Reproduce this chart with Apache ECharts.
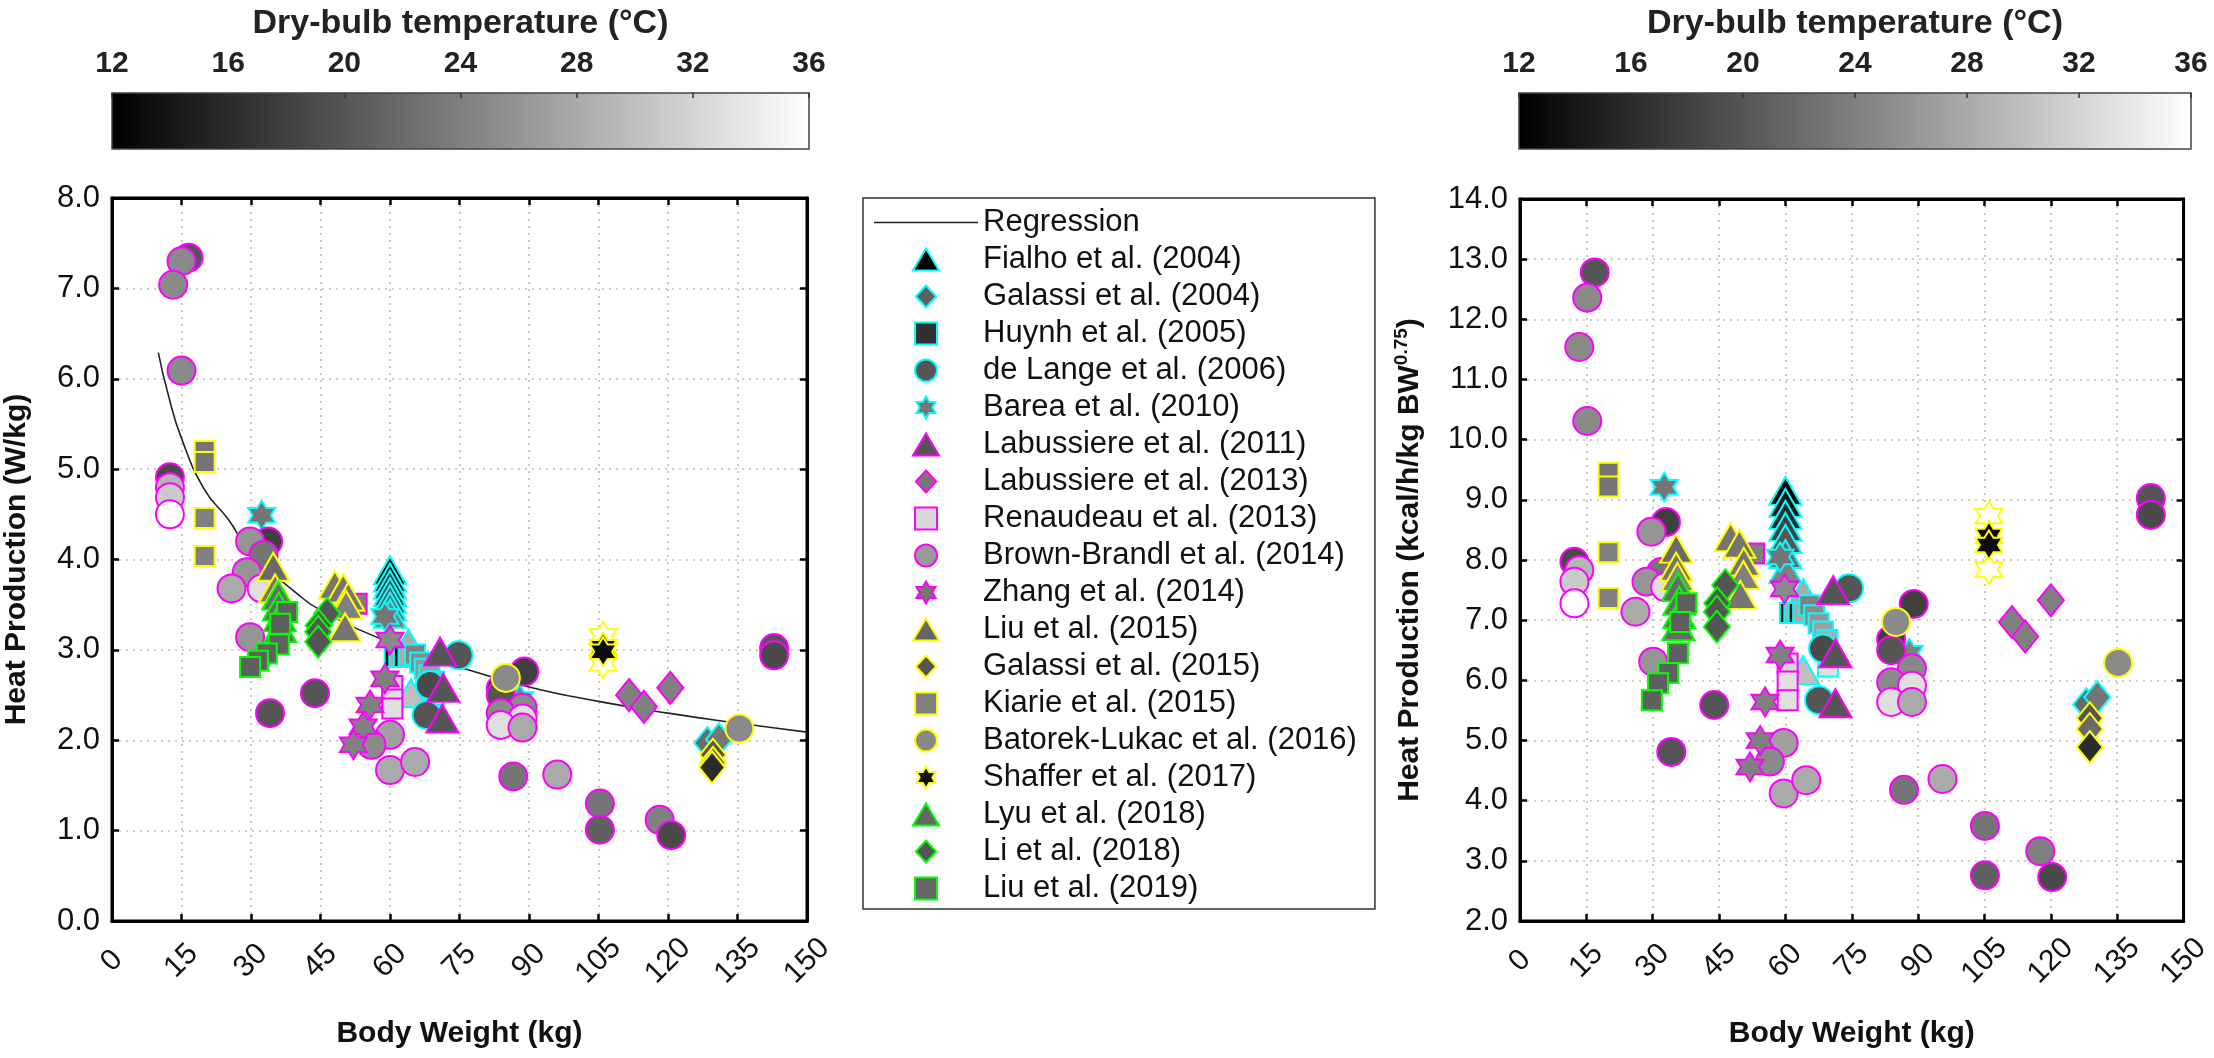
<!DOCTYPE html>
<html><head><meta charset="utf-8">
<script src="https://cdn.jsdelivr.net/npm/echarts@6/dist/echarts.min.js"></script>
<style>html,body{margin:0;padding:0;background:#fff}#c{width:2214px;height:1058px}</style>
</head><body><div id="c"></div>
<script>
// ---------- study metadata ----------
const studyNames = ['Fialho et al. (2004)','Galassi et al. (2004)','Huynh et al. (2005)','de Lange et al. (2006)','Barea et al. (2010)',
  'Labussiere et al. (2011)','Labussiere et al. (2013)','Renaudeau et al. (2013)','Brown-Brandl et al. (2014)','Zhang et al. (2014)',
  'Liu et al. (2015)','Galassi et al. (2015)','Kiarie et al. (2015)','Batorek-Lukac et al. (2016)','Shaffer et al. (2017)',
  'Lyu et al. (2018)','Li et al. (2018)','Liu et al. (2019)'];
const studyShapes = ['triangle','diamond','rect','circle','hexagram','triangle','diamond','rect','circle','hexagram',
  'triangle','diamond','rect','circle','hexagram','triangle','diamond','rect'];
const studyEdges = ['#00ffff','#00ffff','#00ffff','#00ffff','#00ffff','#ff00ff','#ff00ff','#ff00ff','#ff00ff','#ff00ff',
  '#ffff00','#ffff00','#ffff00','#ffff00','#ffff00','#00ff00','#00ff00','#00ff00'];
const studyLegendFill = ['#000000','#606060','#303030','#555555','#777777','#555555','#777777','#d8d8d8','#999999','#777777',
  '#666666','#555555','#808080','#888888','#111111','#666666','#555555','#666666'];

// ---------- data: [body weight kg, heat production, dry-bulb temperature °C] ----------
// Left panel: W/kg
const fialhoL = [[60,3.88,12],[60,3.80,14],[60,3.72,16],[60,3.64,18],[60,3.56,20],[60,3.48,22],[60,3.40,24],[64,3.07,28],[64.5,2.52,30]];
const galassi04L = [[128.5,1.97,22],[131,2.01,23]];
const huynhL = [[61,2.92,13],[62,2.92,28],[63,2.92,13],[64,2.92,28],[65.4,2.95,24],[66.5,2.86,25],[67.5,2.79,26],[68.5,2.72,27],[69.5,2.65,28],[69.6,2.50,33]];
const deLangeL = [[74.8,2.94,20],[68.6,2.61,19],[67.9,2.28,20]];
const bareaL = [[32.3,4.49,23],[58.9,3.37,23],[88,2.45,24]];
const lab11L = [[70.8,2.98,20],[71.5,2.58,20],[71.3,2.24,20]];
const lab13L = [[111.6,2.50,24],[114.8,2.37,24],[120.5,2.58,24]];
const renaudeauL = [[52.8,3.51,24],[60.5,2.60,32],[60.5,2.45,33],[60.5,2.35,33]];
const brownL = [[16.5,7.34,20],[15,7.30,25],[13.2,7.04,25],[15,6.09,25],
  [12.5,4.91,19],[12.5,4.80,29],[12.5,4.69,31],[12.5,4.50,36],
  [33.7,4.20,18],[29.8,4.20,26],[32.7,4.05,23],[29.1,3.86,26],[25.8,3.68,28],[32.3,3.68,33],[29.8,3.14,26],
  [43.8,2.52,20],[34.1,2.30,20],
  [60,2.06,27],[56,1.95,25],[60,1.67,28],[65.4,1.76,28],
  [89,2.76,18],[83.9,2.57,18],[83.9,2.50,20],[88.6,2.36,25],[83.9,2.30,25],[88.6,2.24,33],[83.9,2.17,33],[88.6,2.14,28],
  [86.6,1.60,23],[96.1,1.62,28],
  [105.3,1.30,23],[105.3,1.01,21],[118.2,1.12,24],[120.7,0.95,19],
  [142.9,3.02,20],[142.9,2.94,19]];
const zhangL = [[60,3.11,25],[58.9,2.68,24],[55.7,2.39,24],[54.2,2.15,24],[52.1,1.95,24]];
const liu15L = [[34.8,3.92,22],[35.2,3.68,23],[35.8,3.61,24],[48.1,3.72,23],[49.9,3.68,23],[51,3.59,23],[50.5,3.50,24],[50.3,3.25,23]];
const galassi15L = [[129.7,1.84,20],[129.7,1.75,22],[129.5,1.70,16]];
const kiarieL = [[20,5.20,23],[20,5.08,23],[20,4.46,24],[20,4.04,24]];
const batorekL = [[85,2.69,25],[135.4,2.13,25]];
const shafferL = [[106,3.15,36],[106,2.85,36],[106,3.03,13],[106,2.98,13]];
const lyuL = [[35.9,3.60,22],[36,3.48,22],[36.2,3.36,22],[36.3,3.24,22]];
const liL = [[46.4,3.40,20],[44.6,3.27,20],[44.5,3.20,20],[44.5,3.09,20]];
const liu19L = [[37.8,3.42,21],[36.3,3.29,21],[36,3.06,21],[33.4,2.96,21],[31.5,2.88,21],[29.8,2.81,21]];

// Right panel: kcal/h/kg BW^0.75
const fialhoR = [[60,9.15,12],[60,8.95,14],[60,8.75,16],[60,8.55,18],[60,8.35,20],[60,8.10,22],[60,7.85,24],[64,7.45,28],[64,6.17,30]];
const galassi04R = [[128,5.60,22],[130.5,5.72,23]];
const huynhR = [[61,7.12,13],[62,7.12,28],[63,7.12,13],[64,7.12,28],[65.4,7.25,24],[66.5,7.08,25],[67.5,6.95,26],[68.5,6.81,27],[69.5,6.67,28],[69.6,6.23,33]];
const deLangeR = [[74.4,7.53,20],[68.5,6.53,19],[67.6,5.67,20]];
const bareaR = [[32.6,9.21,23],[58.8,8.05,23],[88,6.45,24]];
const lab11R = [[70.8,7.50,20],[71.3,6.45,20],[71.3,5.62,20]];
const lab13R = [[111.2,6.97,24],[114.2,6.73,24],[120,7.33,24]];
const renaudeauR = [[52.9,8.11,24],[60.5,6.28,32],[60.5,5.98,33],[60.5,5.67,33]];
const brownR = [[16.9,12.78,20],[15.2,12.36,25],[13.4,11.54,25],[15.2,10.31,25],
  [12.3,7.97,19],[13.4,7.83,29],[12.3,7.64,31],[12.3,7.28,36],
  [33,8.63,18],[29.7,8.47,26],[31.9,7.80,23],[28.6,7.64,26],[26.1,7.14,28],[32.8,7.55,33],[30.1,6.31,26],
  [43.9,5.59,20],[34.2,4.81,20],
  [59.6,4.96,27],[56.5,4.65,25],[59.6,4.12,28],[64.7,4.34,28],
  [89,7.27,18],[83.9,6.68,18],[83.9,6.50,20],[88.6,6.20,25],[83.9,5.97,25],[88.6,5.91,33],[83.9,5.64,33],[88.6,5.64,28],
  [86.8,4.18,23],[95.5,4.36,28],
  [105.1,3.58,23],[105.1,2.76,21],[117.6,3.16,24],[120.3,2.73,19],
  [142.6,9.03,20],[142.6,8.75,19]];
const zhangR = [[59.8,7.52,25],[58.8,6.42,24],[55.4,5.64,24],[54.3,5.00,24],[52,4.56,24]];
const liu15R = [[35.3,8.19,22],[35.3,7.89,23],[35.6,7.72,24],[47.6,8.38,23],[49.6,8.27,23],[50.6,7.97,23],[50.5,7.75,24],[49.8,7.42,23]];
const galassi15R = [[128.8,5.37,20],[128.8,5.19,22],[128.8,4.89,16]];
const kiarieR = [[20,9.45,23],[20,9.22,23],[20,8.13,24],[20,7.37,24]];
const batorekR = [[85,6.97,25],[135.2,6.29,25]];
const shafferR = [[106,8.73,36],[106,7.84,36],[106,8.40,13],[106,8.25,13]];
const lyuR = [[35.7,7.55,22],[36,7.32,22],[36,7.10,22],[35.8,6.90,22]];
const liR = [[46.4,7.58,20],[44.6,7.28,20],[44.5,7.14,20],[44.5,6.89,20]];
const liu19R = [[37.6,7.28,21],[36.2,6.97,21],[35.7,6.45,21],[33.5,6.12,21],[31.2,5.95,21],[29.8,5.67,21]];

// Regression curve (left panel)
const regBW = [10,12,15,20,25,30,40,45,60,75,90,105,120,135,150];
const regHP = [6.29,5.85,5.34,4.77,4.45,4.08,3.62,3.44,3.08,2.81,2.59,2.43,2.30,2.19,2.09];

// Colour scale range
const tempMin = 12, tempMax = 36, tempStep = 4;

const leftSets = [fialhoL,galassi04L,huynhL,deLangeL,bareaL,lab11L,lab13L,renaudeauL,brownL,zhangL,liu15L,galassi15L,kiarieL,batorekL,shafferL,lyuL,liL,liu19L];
const rightSets = [fialhoR,galassi04R,huynhR,deLangeR,bareaR,lab11R,lab13R,renaudeauR,brownR,zhangR,liu15R,galassi15R,kiarieR,batorekR,shafferR,lyuR,liR,liu19R];

// ---------- rendering ----------
const HEX = 'path://M50,0L64.43,25L93.3,25L78.87,50L93.3,75L64.43,75L50,100L35.57,75L6.7,75L21.13,50L6.7,25L35.57,25Z';
const symMap = {triangle:'triangle', diamond:'diamond', rect:'rect', circle:'circle', hexagram:HEX};
const legendIconMap = {
  triangle:'path://M16,0L32,27L0,27Z',
  diamond:'path://M12,0L24,13L12,26L0,13Z',
  rect:'path://M0,0L20,0L20,20L0,20Z',
  circle:'path://M10,0A10,10,0,1,1,10,20A10,10,0,1,1,10,0Z',
  hexagram:HEX};
const sizeMap = {triangle:[32,28], diamond:[26,32], rect:20, circle:28, hexagram:[27,29]};
const FONT = "'Liberation Sans', Arial, sans-serif";

const chart = echarts.init(document.getElementById('c'), null, {renderer:'canvas'});

function cbGrid(left, width) {
  return {left: left, width: width, top: 93, height: 56, show: true, borderColor: '#444', borderWidth: 1.5,
    backgroundColor: new echarts.graphic.LinearGradient(0,0,1,0,[{offset:0,color:'#000000'},{offset:1,color:'#ffffff'}])};
}
function cbX(gi) {
  return {gridIndex: gi, type:'value', position:'top', min: tempMin, max: tempMax, interval: tempStep,
    axisLine:{show:false, onZero:false}, splitLine:{show:false},
    axisTick:{show:true, inside:true, length:5, lineStyle:{color:'#333', width:1.5}},
    axisLabel:{fontSize:30, fontWeight:'bold', fontFamily:FONT, color:'#222', margin:14},
    name:'Dry-bulb temperature (°C)', nameLocation:'middle', nameGap:52,
    nameTextStyle:{fontSize:34, fontWeight:'bold', fontFamily:FONT, color:'#222'}};
}
function cbY(gi) { return {gridIndex: gi, type:'value', show:false, min:0, max:1}; }

const tickStyle = {show:true, inside:true, length:7, lineStyle:{color:'#000', width:2.5}};
const splitStyle = {show:true, lineStyle:{color:'#bdbdbd', width:1.6, type:[2,5]}};

function mainX(gi) {
  return {gridIndex: gi, type:'value', min:0, max:150, interval:15,
    axisLine:{show:true, onZero:false, lineStyle:{color:'#000', width:3}}, axisTick: tickStyle, splitLine: splitStyle,
    axisLabel:{fontSize:30, fontFamily:FONT, color:'#111', rotate:45, align:'center', verticalAlign:'middle', margin:40},
    name:'Body Weight (kg)', nameLocation:'middle', nameGap:98,
    nameTextStyle:{fontSize:30, fontWeight:'bold', fontFamily:FONT, color:'#111'}};
}
function topX(gi) {
  return {gridIndex: gi, type:'value', position:'top', min:0, max:150, interval:15,
    axisLine:{show:true, onZero:false, lineStyle:{color:'#000', width:3}}, axisTick: tickStyle, axisLabel:{show:false}, splitLine:{show:false}};
}
function mainY(gi, mn, mx, name, gap, rich) {
  const o = {gridIndex: gi, type:'value', min:mn, max:mx, interval:1,
    axisLine:{show:true, onZero:false, lineStyle:{color:'#000', width:3}}, axisTick: tickStyle, splitLine: splitStyle,
    axisLabel:{fontSize:31, fontFamily:FONT, color:'#111', margin:12, formatter: v => v.toFixed(1)},
    name:name, nameLocation:'middle', nameGap:gap,
    nameTextStyle:{fontSize:30, fontWeight:'bold', fontFamily:FONT, color:'#111'}};
  if (rich) o.nameTextStyle.rich = rich;
  return o;
}
function rightY(gi, mn, mx) {
  return {gridIndex: gi, type:'value', position:'right', min:mn, max:mx, interval:1,
    axisLine:{show:true, onZero:false, lineStyle:{color:'#000', width:3}}, axisTick: tickStyle, axisLabel:{show:false}, splitLine:{show:false}};
}

const series = [];
series.push({type:'line', name:'Regression', xAxisIndex:2, yAxisIndex:2, smooth:true, symbol:'none',
  data: regBW.map((b,i)=>[b, regHP[i]]), lineStyle:{color:'#222', width:1.6}, itemStyle:{color:'#222'}, z:2});
const scatterIdx = [];
studyNames.forEach((nm, i) => {
  const shape = studyShapes[i];
  const common = {type:'scatter', name:nm, symbol:symMap[shape], symbolSize:sizeMap[shape],
    itemStyle:{color:studyLegendFill[i], borderColor:studyEdges[i], borderWidth:2, opacity:1}, z:3,
    emphasis:{disabled:true}};
  scatterIdx.push(series.length);
  series.push(Object.assign({}, common, {xAxisIndex:2, yAxisIndex:2, data: leftSets[i]}));
  scatterIdx.push(series.length);
  series.push(Object.assign({}, common, {xAxisIndex:4, yAxisIndex:4, data: rightSets[i]}));
});

const legendData = [{name:'Regression', icon:'path://M0,0L100,0L100,1.5L0,1.5Z'}]
  .concat(studyNames.map((n, i) => ({name:n, icon:legendIconMap[studyShapes[i]]})));

const option = {
  backgroundColor:'#ffffff',
  animation:false,
  grid:[cbGrid(112,697), cbGrid(1519,672),
    {left:112, right:2214-807, top:198, bottom:1058-921, show:true, borderColor:'#000', borderWidth:3},
    {left:1520, right:2214-2192, top:199, bottom:1058-921, show:true, borderColor:'#000', borderWidth:3}],
  xAxis:[cbX(0), cbX(1), mainX(2), topX(2), mainX(3), topX(3)],
  yAxis:[cbY(0), cbY(1),
    mainY(2, 0, 8, 'Heat Production (W/kg)', 80),
    rightY(2, 0, 8),
    mainY(3, 2, 14, '{a|Heat Production (kcal/h/kg BW}{s|0.75}{a|)}', 92,
      {a:{fontSize:30, fontWeight:'bold', fontFamily:FONT, color:'#111', lineHeight:36, verticalAlign:'middle'},
       s:{fontSize:19, fontWeight:'bold', fontFamily:FONT, color:'#111', lineHeight:18, verticalAlign:'top'}}),
    rightY(3, 2, 14)],
  visualMap:{type:'continuous', show:false, min:tempMin, max:tempMax, dimension:2, seriesIndex:scatterIdx,
    inRange:{color:['#000000','#ffffff']}},
  legend:{orient:'vertical', left:863, top:198, padding:[9,18,5,11], itemWidth:104, itemHeight:22, itemGap:6,
    symbolKeepAspect:true,
    borderColor:'#333', borderWidth:1.5, backgroundColor:'#fff', selectedMode:false,
    textStyle:{fontSize:31, lineHeight:31, fontFamily:FONT, color:'#111'},
    data: legendData},
  series: series
};
chart.setOption(option);
</script></body></html>
